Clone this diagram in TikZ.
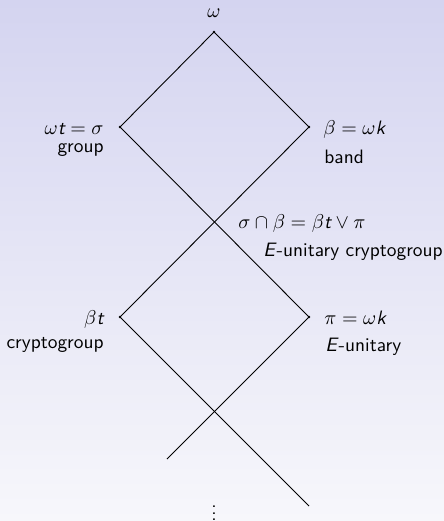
\documentclass[tikz,border=0pt]{standalone}
\definecolor{bgtop}{RGB}{212,212,240}
\definecolor{bgbot}{RGB}{247,247,251}
\newcommand\tb[1]{\mbox{\sffamily\itshape #1}}
\begin{document}
\begin{tikzpicture}[x=0.5pt,y=-0.5pt,
  vdot/.style={circle,fill=black,inner sep=0pt,minimum size=1.4pt},
  lbl/.style={inner sep=0pt,font=\fontsize{9.7}{12}\selectfont\sffamily},
  edge/.style={line width=0.45pt}]
\shade[top color=bgtop,bottom color=bgbot] (0,0) rectangle (444,521);
\useasboundingbox (0,0) rectangle (444,521);
% vertices
\node[vdot] (w) at (214,32) {};
\node[vdot] (s) at (120,127) {};
\node[vdot] (b) at (309,127) {};
\node[vdot] (bt) at (120,317) {};
\node[vdot] (p) at (309,317) {};
\coordinate (e1) at (167,459);
\coordinate (e2) at (309,506);
% lines
\draw[edge] (w.center) -- (s.center) -- (p.center) -- (e1);
\draw[edge] (w.center) -- (b.center) -- (bt.center) -- (e2);
% labels
\node[lbl,anchor=base] (lw) at (214,17) {$\omega$};
\node[lbl,anchor=base east] (ls) at (104,134) {$\omega\tb{t}=\sigma$};
\node[lbl,anchor=base east] (lsg) at (104,152) {group};
\node[lbl,anchor=base west] (lb) at (323,134) {$\beta=\omega\tb{k}$};
\node[lbl,anchor=base west] (lbb) at (324,163) {band};
\node[lbl,anchor=base west] (lx) at (238,228) {$\sigma\cap\beta=\beta\tb{t}\vee\pi$};
\node[lbl,anchor=base west] (lxe) at (263,256) {\textit{E}-unitary cryptogroup};
\node[lbl,anchor=base east] (lbt) at (104,324) {$\beta\tb{t}$};
\node[lbl,anchor=base east] (lbtc) at (104,348) {cryptogroup};
\node[lbl,anchor=base west] (lp) at (324,324) {$\pi=\omega\tb{k}$};
\node[lbl,anchor=base west] (lpe) at (325,351) {\textit{E}-unitary};
\node[lbl,anchor=north] (dots) at (214,505.5) {\vbox{\baselineskip=3.3pt\lineskiplimit=-10pt\hbox{.}\hbox{.}\hbox{.}}};
\end{tikzpicture}
\end{document}
